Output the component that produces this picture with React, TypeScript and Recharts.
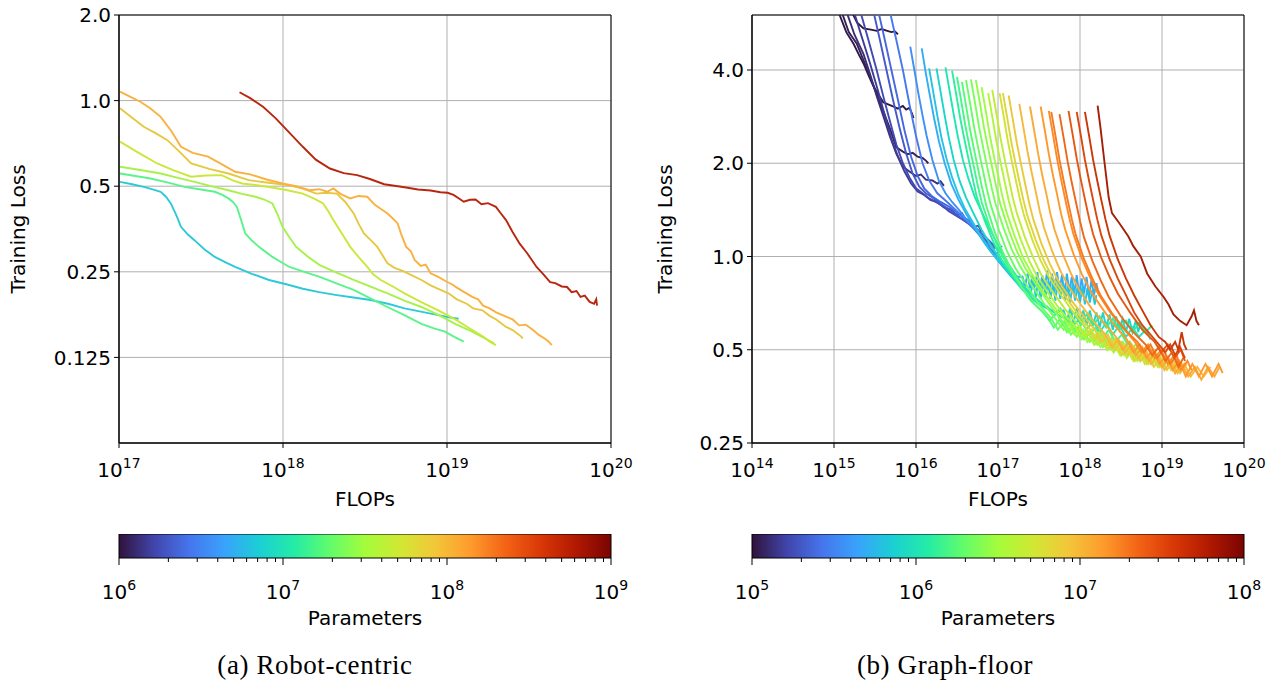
import React from 'react';
import { LineChart, Line, XAxis, YAxis, CartesianGrid, ReferenceArea } from 'recharts';

const FONT = '"DejaVu Sans", sans-serif';

// (a) Robot-centric runs, each point is [log10 FLOPs, training loss]
const robotCyan = [[17.006, 0.518], [17.08, 0.508], [17.151, 0.497], [17.2, 0.488], [17.254, 0.478], [17.285, 0.46], [17.316, 0.435], [17.35, 0.395], [17.378, 0.36], [17.42, 0.338], [17.46, 0.323], [17.52, 0.3], [17.584, 0.282], [17.65, 0.27], [17.708, 0.26], [17.81, 0.246], [17.915, 0.234], [18.02, 0.226], [18.121, 0.218], [18.22, 0.212], [18.328, 0.207], [18.43, 0.203], [18.534, 0.199], [18.64, 0.193], [18.741, 0.186], [18.84, 0.181], [18.947, 0.176], [19.01, 0.173], [19.071, 0.171]];
const robotGreen = [[17.006, 0.554], [17.1, 0.543], [17.192, 0.532], [17.3, 0.515], [17.399, 0.497], [17.49, 0.488], [17.584, 0.478], [17.63, 0.466], [17.667, 0.453], [17.695, 0.44], [17.719, 0.423], [17.745, 0.38], [17.77, 0.341], [17.81, 0.322], [17.853, 0.306], [17.9, 0.292], [17.935, 0.282], [17.99, 0.27], [18.039, 0.26], [18.13, 0.25], [18.224, 0.24], [18.33, 0.227], [18.431, 0.216], [18.53, 0.202], [18.637, 0.188], [18.74, 0.176], [18.844, 0.164], [18.92, 0.158], [18.988, 0.154], [19.05, 0.147], [19.102, 0.142]];
const robotLime = [[17.006, 0.585], [17.13, 0.57], [17.254, 0.554], [17.36, 0.535], [17.46, 0.518], [17.56, 0.5], [17.667, 0.484], [17.75, 0.47], [17.832, 0.459], [17.89, 0.448], [17.935, 0.435], [17.965, 0.4], [17.997, 0.36], [18.04, 0.33], [18.08, 0.306], [18.15, 0.283], [18.224, 0.264], [18.33, 0.248], [18.431, 0.234], [18.53, 0.222], [18.637, 0.21], [18.74, 0.198], [18.844, 0.188], [18.95, 0.176], [19.05, 0.164], [19.154, 0.154], [19.22, 0.147], [19.288, 0.14]];
const robotYellowGreen = [[17.006, 0.717], [17.12, 0.655], [17.233, 0.601], [17.33, 0.57], [17.44, 0.54], [17.53, 0.545], [17.626, 0.547], [17.69, 0.525], [17.75, 0.511], [17.83, 0.505], [17.915, 0.497], [18.02, 0.485], [18.121, 0.471], [18.19, 0.452], [18.245, 0.435], [18.28, 0.405], [18.307, 0.38], [18.36, 0.34], [18.41, 0.306], [18.46, 0.282], [18.514, 0.26], [18.55, 0.245], [18.596, 0.234], [18.67, 0.222], [18.741, 0.21], [18.84, 0.196], [18.947, 0.183], [19.05, 0.17], [19.154, 0.156], [19.22, 0.148], [19.26, 0.142], [19.298, 0.138]];
const robotYellow = [[17.006, 0.939], [17.08, 0.87], [17.151, 0.809], [17.22, 0.77], [17.295, 0.726], [17.37, 0.66], [17.44, 0.601], [17.55, 0.575], [17.667, 0.554], [17.791, 0.525], [17.9, 0.515], [18.039, 0.504], [18.12, 0.49], [18.204, 0.471], [18.26, 0.474], [18.328, 0.471], [18.38, 0.44], [18.431, 0.401], [18.46, 0.37], [18.493, 0.341], [18.53, 0.325], [18.575, 0.306], [18.6, 0.29], [18.637, 0.268], [18.68, 0.258], [18.73, 0.252], [18.78, 0.244], [18.844, 0.234], [18.9, 0.224], [18.96, 0.216], [19.009, 0.21], [19.06, 0.2], [19.12, 0.193], [19.16, 0.186], [19.216, 0.183], [19.26, 0.175], [19.3, 0.17], [19.36, 0.16], [19.4, 0.156], [19.44, 0.15], [19.463, 0.146]];
const robotOrange = [[17.006, 1.075], [17.07, 1.03], [17.13, 0.991], [17.19, 0.94], [17.254, 0.877], [17.32, 0.78], [17.378, 0.688], [17.45, 0.655], [17.543, 0.635], [17.62, 0.6], [17.708, 0.562], [17.8, 0.55], [17.9, 0.528], [17.997, 0.511], [18.08, 0.5], [18.162, 0.484], [18.22, 0.488], [18.27, 0.478], [18.307, 0.491], [18.35, 0.47], [18.41, 0.453], [18.46, 0.462], [18.514, 0.459], [18.56, 0.43], [18.6, 0.415], [18.637, 0.401], [18.67, 0.385], [18.699, 0.37], [18.72, 0.34], [18.751, 0.306], [18.78, 0.295], [18.803, 0.275], [18.84, 0.262], [18.87, 0.265], [18.9, 0.247], [18.947, 0.24], [18.99, 0.232], [19.03, 0.226], [19.06, 0.22], [19.1, 0.213], [19.154, 0.204], [19.19, 0.2], [19.22, 0.19], [19.26, 0.186], [19.3, 0.18], [19.36, 0.174], [19.4, 0.17], [19.44, 0.162], [19.48, 0.163], [19.525, 0.156], [19.56, 0.15], [19.6, 0.145], [19.62, 0.142], [19.639, 0.138]];
const robotRed = [[17.735, 1.07], [17.8, 1.02], [17.88, 0.95], [17.956, 0.866], [18.04, 0.77], [18.121, 0.688], [18.2, 0.62], [18.286, 0.577], [18.37, 0.556], [18.452, 0.547], [18.53, 0.53], [18.617, 0.508], [18.7, 0.5], [18.76, 0.494], [18.823, 0.487], [18.9, 0.483], [18.96, 0.476], [19.003, 0.474], [19.04, 0.466], [19.08, 0.45], [19.102, 0.441], [19.14, 0.448], [19.174, 0.449], [19.21, 0.432], [19.25, 0.436], [19.298, 0.423], [19.33, 0.4], [19.36, 0.38], [19.4, 0.345], [19.443, 0.314], [19.49, 0.29], [19.546, 0.26], [19.58, 0.248], [19.629, 0.23], [19.66, 0.228], [19.7, 0.222], [19.732, 0.221], [19.76, 0.212], [19.79, 0.214], [19.814, 0.204], [19.84, 0.206], [19.87, 0.196], [19.897, 0.193], [19.91, 0.2], [19.915, 0.19]];

const robotRuns = [robotCyan, robotGreen, robotLime, robotYellowGreen, robotYellow, robotOrange, robotRed];
const robotColors = ['#2ccad8', '#5bf38c', '#a6f24a', '#c9e83a', '#e6c840', '#f9b13f', '#b8260f'];

// (b) Graph-floor runs, [log10 FLOPs, training loss]
const gD1 = [[15.2, 6.3], [15.28, 5.7], [15.36, 5.45], [15.45, 5.4], [15.52, 5.35], [15.58, 5.42], [15.64, 5.36], [15.7, 5.3], [15.74, 5.33], [15.78, 5.22]];
const gD2 = [[15.05, 6.2], [15.15, 5.3], [15.24, 4.85], [15.3, 4.5], [15.36, 4.2], [15.42, 3.85], [15.48, 3.55], [15.55, 3.3], [15.6, 3.15], [15.66, 3.1], [15.72, 3.05], [15.78, 3.0], [15.84, 3.06], [15.88, 2.98], [15.92, 3.02], [15.95, 2.9], [15.97, 2.8]];
const gD3 = [[15.09, 6.2], [15.18, 5.3], [15.28, 4.85], [15.36, 4.3], [15.44, 3.8], [15.52, 3.35], [15.6, 2.95], [15.68, 2.6], [15.76, 2.25], [15.84, 2.18], [15.9, 2.14], [15.96, 2.16], [16.02, 2.1], [16.08, 2.08], [16.12, 2.04], [16.15, 2.0]];
const gD4 = [[15.15, 6.2], [15.25, 5.2], [15.36, 4.5], [15.45, 3.8], [15.52, 3.3], [15.6, 2.85], [15.68, 2.45], [15.76, 2.15], [15.84, 1.95], [15.92, 1.88], [16.0, 1.82], [16.06, 1.84], [16.12, 1.77], [16.2, 1.76], [16.26, 1.72], [16.3, 1.75], [16.34, 1.69]];
const gN1 = [[15.24, 6.2], [15.34, 5.1], [15.44, 4.2], [15.54, 3.4], [15.62, 2.85], [15.7, 2.4], [15.78, 2.1], [15.86, 1.88], [15.94, 1.72], [16.02, 1.62], [16.1, 1.58], [16.18, 1.52], [16.26, 1.5], [16.34, 1.44], [16.42, 1.42], [16.5, 1.36], [16.56, 1.38], [16.62, 1.3]];
const gN2 = [[15.32, 6.2], [15.42, 5.0], [15.52, 4.0], [15.6, 3.3], [15.68, 2.75], [15.76, 2.3], [15.84, 2.0], [15.92, 1.8], [16.0, 1.66], [16.08, 1.6], [16.16, 1.54], [16.24, 1.5], [16.32, 1.46], [16.4, 1.4], [16.48, 1.36], [16.56, 1.32], [16.64, 1.28], [16.7, 1.24], [16.76, 1.26], [16.8, 1.2]];
const gN3 = [[15.48, 6.2], [15.56, 5.0], [15.64, 4.0], [15.72, 3.2], [15.8, 2.6], [15.88, 2.15], [15.96, 1.85], [16.04, 1.68], [16.12, 1.6], [16.2, 1.55], [16.3, 1.48], [16.4, 1.42], [16.5, 1.36], [16.6, 1.3], [16.7, 1.24], [16.8, 1.16], [16.9, 1.1], [16.96, 1.06]];
const gN4 = [[15.54, 6.2], [15.62, 5.0], [15.7, 4.0], [15.78, 3.2], [15.86, 2.55], [15.94, 2.1], [16.02, 1.82], [16.1, 1.66], [16.2, 1.56], [16.3, 1.5], [16.42, 1.44], [16.54, 1.36], [16.66, 1.3], [16.78, 1.2], [16.9, 1.12], [17.0, 1.05], [17.05, 1.08]];
const gB1 = [[15.68, 6.2], [15.76, 5.0], [15.84, 4.0], [15.92, 3.1], [16.0, 2.45], [16.08, 2.0], [16.16, 1.76], [16.26, 1.6], [16.38, 1.5], [16.5, 1.4], [16.62, 1.3], [16.74, 1.2], [16.86, 1.1], [16.96, 1.02], [17.04, 0.98]];
const gC1 = [[15.93, 4.76], [15.98, 4.0], [16.03, 3.35], [16.08, 2.85], [16.13, 2.45], [16.2, 2.05], [16.28, 1.75], [16.36, 1.6], [16.44, 1.5], [16.52, 1.42], [16.6, 1.33], [16.68, 1.26], [16.74, 1.2], [16.8, 1.16], [16.86, 1.1], [16.92, 1.08], [16.98, 1.02], [17.02, 1.04]];
const gC2 = [[16.07, 4.7], [16.12, 3.9], [16.17, 3.3], [16.22, 2.8], [16.28, 2.35], [16.35, 2.0], [16.43, 1.72], [16.52, 1.52], [16.62, 1.36], [16.72, 1.24], [16.82, 1.12], [16.92, 1.03], [17.02, 0.96], [17.12, 0.9], [17.22, 0.86], [17.3, 0.86], [17.33, 0.8], [17.36, 0.88], [17.39, 0.79], [17.42, 0.87], [17.45, 0.8], [17.48, 0.89], [17.51, 0.78], [17.54, 0.87], [17.57, 0.79], [17.6, 0.9], [17.63, 0.78], [17.66, 0.88], [17.69, 0.77], [17.72, 0.89], [17.75, 0.78], [17.78, 0.87], [17.81, 0.76], [17.84, 0.88], [17.87, 0.77], [17.9, 0.86], [17.93, 0.76], [17.96, 0.87], [17.99, 0.75], [18.02, 0.85], [18.05, 0.76], [18.08, 0.86], [18.11, 0.74], [18.14, 0.84], [18.17, 0.75], [18.2, 0.82], [18.22, 0.77]];
const gC3 = [[16.16, 4.05], [16.21, 3.4], [16.26, 2.85], [16.31, 2.42], [16.37, 2.08], [16.44, 1.8], [16.52, 1.58], [16.6, 1.42], [16.7, 1.28], [16.8, 1.15], [16.9, 1.05], [17.0, 0.97], [17.1, 0.9], [17.2, 0.84], [17.3, 0.8], [17.4, 0.76], [17.43, 0.84], [17.46, 0.74], [17.49, 0.83], [17.52, 0.73], [17.55, 0.84], [17.58, 0.74], [17.61, 0.83], [17.64, 0.73], [17.67, 0.82], [17.7, 0.72], [17.73, 0.83], [17.76, 0.73], [17.79, 0.82], [17.82, 0.72], [17.85, 0.81], [17.88, 0.71], [17.91, 0.82], [17.94, 0.72], [17.97, 0.8], [18.0, 0.71], [18.03, 0.8], [18.06, 0.7], [18.09, 0.79], [18.12, 0.71], [18.15, 0.78], [18.18, 0.7], [18.2, 0.75]];
const gC4 = [[16.25, 4.05], [16.3, 3.4], [16.35, 2.85], [16.4, 2.42], [16.46, 2.05], [16.53, 1.76], [16.61, 1.55], [16.7, 1.38], [16.8, 1.22], [16.9, 1.1], [17.0, 1.0], [17.1, 0.91], [17.2, 0.84], [17.3, 0.78], [17.4, 0.74], [17.5, 0.7], [17.6, 0.68], [17.7, 0.66], [17.8, 0.67], [17.84, 0.62], [17.88, 0.68], [17.92, 0.61], [17.96, 0.68], [18.0, 0.61], [18.04, 0.67], [18.08, 0.6], [18.12, 0.67], [18.16, 0.6], [18.2, 0.66], [18.24, 0.59], [18.28, 0.66], [18.32, 0.59], [18.36, 0.65], [18.4, 0.58], [18.44, 0.64], [18.48, 0.58], [18.52, 0.63], [18.56, 0.57], [18.6, 0.63], [18.64, 0.57], [18.68, 0.62], [18.71, 0.57], [18.74, 0.61]];
const gC5 = [[16.36, 4.08], [16.41, 3.42], [16.46, 2.87], [16.51, 2.44], [16.57, 2.06], [16.64, 1.78], [16.72, 1.55], [16.82, 1.36], [16.92, 1.2], [17.02, 1.06], [17.12, 0.95], [17.22, 0.87], [17.32, 0.8], [17.42, 0.75], [17.52, 0.71], [17.62, 0.68], [17.72, 0.65], [17.82, 0.63], [17.92, 0.6], [18.0, 0.63], [18.08, 0.58], [18.16, 0.62], [18.24, 0.57], [18.32, 0.61], [18.4, 0.56], [18.48, 0.6], [18.56, 0.55], [18.64, 0.59], [18.72, 0.55], [18.8, 0.58], [18.86, 0.54]];
const gC6 = [[16.44, 3.98], [16.49, 3.34], [16.54, 2.79], [16.59, 2.39], [16.64, 2.07], [16.69, 1.79], [16.74, 1.56], [16.84, 1.3], [16.94, 1.12], [17.04, 0.98], [17.19, 0.86], [17.34, 0.77], [17.5, 0.7], [17.6, 0.69], [17.68, 0.64], [17.76, 0.68], [17.84, 0.62], [17.92, 0.66], [18.0, 0.61], [18.08, 0.65], [18.16, 0.6], [18.24, 0.64], [18.32, 0.59], [18.4, 0.63], [18.48, 0.58], [18.56, 0.62], [18.64, 0.57], [18.72, 0.61], [18.8, 0.57], [18.88, 0.6]];
const gC7 = [[16.5, 3.8], [16.55, 3.19], [16.6, 2.66], [16.65, 2.28], [16.7, 1.98], [16.75, 1.71], [16.8, 1.5], [16.9, 1.25], [17.0, 1.07], [17.1, 0.95], [17.25, 0.82], [17.4, 0.72], [17.55, 0.66], [17.63, 0.62], [17.71, 0.66], [17.79, 0.6], [17.87, 0.63], [17.95, 0.57], [18.03, 0.61], [18.11, 0.56], [18.19, 0.59], [18.27, 0.54], [18.35, 0.58], [18.43, 0.53], [18.51, 0.56], [18.58, 0.52]];
const gC8 = [[16.56, 3.66], [16.61, 3.07], [16.66, 2.56], [16.71, 2.2], [16.76, 1.9], [16.81, 1.65], [16.86, 1.45], [16.96, 1.2], [17.06, 1.03], [17.16, 0.91], [17.3, 0.79], [17.45, 0.7], [17.6, 0.64], [17.68, 0.59], [17.76, 0.63], [17.84, 0.57], [17.92, 0.6], [18.0, 0.55], [18.08, 0.58], [18.16, 0.53], [18.24, 0.57], [18.32, 0.52], [18.4, 0.55], [18.48, 0.51]];
const gC9 = [[16.61, 3.71], [16.66, 3.12], [16.71, 2.6], [16.76, 2.23], [16.81, 1.93], [16.86, 1.67], [16.91, 1.47], [17.01, 1.22], [17.11, 1.04], [17.21, 0.92], [17.36, 0.8], [17.5, 0.7], [17.65, 0.63], [17.73, 0.58], [17.81, 0.62], [17.89, 0.56], [17.97, 0.59], [18.05, 0.54], [18.13, 0.57], [18.21, 0.52], [18.29, 0.56], [18.37, 0.51], [18.45, 0.54], [18.53, 0.5], [18.61, 0.53], [18.69, 0.49]];
const gC10 = [[16.67, 3.73], [16.72, 3.13], [16.77, 2.61], [16.82, 2.24], [16.87, 1.94], [16.92, 1.68], [16.97, 1.48], [17.07, 1.23], [17.17, 1.05], [17.27, 0.93], [17.42, 0.8], [17.57, 0.7], [17.72, 0.62], [17.8, 0.58], [17.88, 0.61], [17.96, 0.55], [18.04, 0.58], [18.12, 0.53], [18.2, 0.56], [18.28, 0.51], [18.36, 0.54], [18.44, 0.5], [18.52, 0.53], [18.6, 0.49], [18.68, 0.52], [18.76, 0.48], [18.8, 0.5]];
const gC11 = [[16.73, 3.71], [16.78, 3.12], [16.83, 2.6], [16.88, 2.23], [16.93, 1.93], [16.98, 1.67], [17.03, 1.47], [17.13, 1.22], [17.23, 1.04], [17.33, 0.92], [17.48, 0.8], [17.63, 0.7], [17.78, 0.62], [17.86, 0.57], [17.94, 0.6], [18.02, 0.54], [18.1, 0.57], [18.18, 0.52], [18.26, 0.55], [18.34, 0.5], [18.42, 0.53], [18.5, 0.48], [18.58, 0.51], [18.66, 0.47], [18.74, 0.5], [18.82, 0.46], [18.9, 0.49]];
const gC12 = [[16.8, 3.52], [16.85, 2.96], [16.9, 2.46], [16.95, 2.11], [17.0, 1.83], [17.05, 1.58], [17.1, 1.4], [17.2, 1.17], [17.3, 1.0], [17.4, 0.89], [17.55, 0.77], [17.7, 0.68], [17.85, 0.61], [17.93, 0.56], [18.01, 0.59], [18.09, 0.53], [18.17, 0.56], [18.25, 0.51], [18.33, 0.54], [18.41, 0.49], [18.49, 0.52], [18.57, 0.47], [18.65, 0.5], [18.73, 0.46], [18.81, 0.49], [18.89, 0.45], [18.97, 0.48], [19.02, 0.45]];
const gC13 = [[16.88, 3.37], [16.93, 2.83], [16.98, 2.36], [17.03, 2.02], [17.08, 1.75], [17.13, 1.52], [17.18, 1.35], [17.28, 1.13], [17.38, 0.97], [17.48, 0.86], [17.63, 0.75], [17.78, 0.66], [17.93, 0.6], [18.01, 0.55], [18.09, 0.58], [18.17, 0.52], [18.25, 0.55], [18.33, 0.5], [18.41, 0.53], [18.49, 0.48], [18.57, 0.51], [18.65, 0.46], [18.73, 0.49], [18.81, 0.45], [18.89, 0.48], [18.97, 0.44], [19.05, 0.47], [19.1, 0.44]];
const gC14 = [[16.93, 3.45], [16.98, 2.9], [17.03, 2.42], [17.08, 2.07], [17.13, 1.79], [17.18, 1.55], [17.23, 1.38], [17.33, 1.15], [17.43, 0.99], [17.53, 0.87], [17.68, 0.76], [17.83, 0.67], [17.98, 0.6], [18.06, 0.55], [18.14, 0.58], [18.22, 0.52], [18.3, 0.55], [18.38, 0.5], [18.46, 0.53], [18.54, 0.48], [18.62, 0.51], [18.7, 0.46], [18.78, 0.49], [18.86, 0.45], [18.94, 0.48], [19.02, 0.44], [19.06, 0.46]];
const gC15 = [[17.02, 3.37], [17.07, 2.83], [17.12, 2.36], [17.17, 2.02], [17.22, 1.75], [17.27, 1.52], [17.32, 1.35], [17.42, 1.13], [17.52, 0.97], [17.62, 0.86], [17.77, 0.75], [17.92, 0.66], [18.07, 0.59], [18.15, 0.54], [18.23, 0.57], [18.31, 0.51], [18.39, 0.54], [18.47, 0.49], [18.55, 0.52], [18.63, 0.47], [18.71, 0.5], [18.79, 0.45], [18.87, 0.48], [18.95, 0.44], [19.03, 0.47], [19.11, 0.43], [19.19, 0.46]];
const gC16 = [[17.06, 3.37], [17.11, 2.83], [17.16, 2.36], [17.21, 2.02], [17.26, 1.75], [17.31, 1.52], [17.36, 1.35], [17.46, 1.13], [17.56, 0.97], [17.66, 0.86], [17.81, 0.75], [17.96, 0.66], [18.11, 0.59], [18.19, 0.54], [18.27, 0.57], [18.35, 0.51], [18.43, 0.54], [18.51, 0.48], [18.59, 0.51], [18.67, 0.46], [18.75, 0.49], [18.83, 0.45], [18.91, 0.48], [18.99, 0.44], [19.07, 0.46], [19.12, 0.43]];
const gC17 = [[17.13, 3.31], [17.18, 2.78], [17.23, 2.32], [17.28, 1.99], [17.33, 1.72], [17.38, 1.49], [17.43, 1.32], [17.53, 1.1], [17.63, 0.95], [17.73, 0.84], [17.88, 0.73], [18.03, 0.65], [18.18, 0.58], [18.26, 0.53], [18.34, 0.56], [18.42, 0.5], [18.5, 0.53], [18.58, 0.48], [18.66, 0.51], [18.74, 0.46], [18.82, 0.49], [18.9, 0.44], [18.98, 0.47], [19.06, 0.43], [19.14, 0.46], [19.22, 0.42], [19.3, 0.45]];
const gC18 = [[17.26, 3.11], [17.31, 2.61], [17.36, 2.18], [17.41, 1.87], [17.46, 1.62], [17.51, 1.4], [17.56, 1.24], [17.66, 1.04], [17.76, 0.9], [17.86, 0.8], [18.01, 0.7], [18.16, 0.62], [18.31, 0.56], [18.39, 0.51], [18.47, 0.54], [18.55, 0.49], [18.63, 0.52], [18.71, 0.47], [18.79, 0.5], [18.87, 0.45], [18.95, 0.48], [19.03, 0.43], [19.11, 0.46], [19.19, 0.42], [19.27, 0.45], [19.35, 0.41], [19.43, 0.44], [19.51, 0.41], [19.59, 0.44]];
const gC19 = [[17.39, 3.05], [17.44, 2.56], [17.49, 2.14], [17.54, 1.83], [17.59, 1.59], [17.64, 1.37], [17.69, 1.22], [17.79, 1.02], [17.89, 0.88], [17.99, 0.78], [18.14, 0.68], [18.29, 0.61], [18.44, 0.55], [18.52, 0.5], [18.6, 0.53], [18.68, 0.48], [18.76, 0.51], [18.84, 0.46], [18.92, 0.49], [19.0, 0.44], [19.08, 0.47], [19.16, 0.42], [19.24, 0.45], [19.32, 0.41], [19.4, 0.44], [19.48, 0.4], [19.56, 0.44], [19.64, 0.41], [19.7, 0.44]];
const gC20 = [[17.52, 3.05], [17.57, 2.56], [17.62, 2.14], [17.67, 1.83], [17.72, 1.59], [17.77, 1.37], [17.82, 1.22], [17.92, 1.02], [18.02, 0.88], [18.12, 0.78], [18.27, 0.68], [18.42, 0.6], [18.57, 0.54], [18.65, 0.49], [18.73, 0.52], [18.81, 0.47], [18.89, 0.5], [18.97, 0.45], [19.05, 0.48], [19.13, 0.43], [19.21, 0.46], [19.29, 0.41], [19.37, 0.45], [19.45, 0.41], [19.53, 0.45], [19.61, 0.41], [19.69, 0.45], [19.74, 0.42]];
const gC21 = [[17.62, 2.95], [17.67, 2.48], [17.72, 2.07], [17.77, 1.77], [17.82, 1.53], [17.87, 1.33], [17.92, 1.18], [18.02, 0.99], [18.12, 0.86], [18.22, 0.76], [18.37, 0.66], [18.52, 0.59], [18.67, 0.53], [18.75, 0.49], [18.83, 0.52], [18.91, 0.47], [18.99, 0.5], [19.07, 0.45], [19.15, 0.48], [19.23, 0.43], [19.31, 0.46], [19.36, 0.43]];
const gC22 = [[17.65, 2.93], [17.7, 2.46], [17.75, 2.05], [17.8, 1.76], [17.85, 1.52], [17.9, 1.32], [17.95, 1.17], [18.05, 0.98], [18.15, 0.85], [18.25, 0.75], [18.4, 0.65], [18.55, 0.58], [18.7, 0.53], [18.78, 0.49], [18.86, 0.52], [18.94, 0.47], [19.02, 0.5], [19.1, 0.45], [19.18, 0.48], [19.22, 0.44]];
const gC23 = [[17.75, 2.88], [17.8, 2.42], [17.85, 2.02], [17.9, 1.73], [17.95, 1.5], [18.0, 1.3], [18.05, 1.15], [18.15, 0.97], [18.25, 0.84], [18.35, 0.74], [18.5, 0.64], [18.65, 0.57], [18.8, 0.52], [18.88, 0.48], [18.96, 0.51], [19.04, 0.46], [19.12, 0.49], [19.2, 0.44], [19.26, 0.47]];
const gC24 = [[17.86, 2.95], [17.91, 2.48], [17.96, 2.07], [18.01, 1.77], [18.06, 1.53], [18.11, 1.33], [18.16, 1.18], [18.26, 0.99], [18.36, 0.86], [18.46, 0.76], [18.61, 0.66], [18.76, 0.58], [18.91, 0.53], [18.99, 0.49], [19.07, 0.52], [19.15, 0.47], [19.23, 0.5], [19.28, 0.46]];
const gC25 = [[17.96, 2.93], [18.01, 2.46], [18.06, 2.05], [18.11, 1.76], [18.16, 1.52], [18.21, 1.32], [18.26, 1.17], [18.36, 0.98], [18.46, 0.85], [18.56, 0.75], [18.66, 0.66], [18.76, 0.6], [18.86, 0.56], [18.96, 0.52], [19.04, 0.49], [19.1, 0.52], [19.16, 0.48], [19.22, 0.51], [19.28, 0.47]];
const gC26 = [[18.06, 2.93], [18.11, 2.46], [18.16, 2.05], [18.21, 1.76], [18.26, 1.52], [18.31, 1.32], [18.36, 1.17], [18.46, 0.98], [18.56, 0.85], [18.66, 0.75], [18.76, 0.67], [18.86, 0.6], [18.96, 0.55], [19.04, 0.53], [19.1, 0.5], [19.16, 0.53], [19.2, 0.5], [19.24, 0.57], [19.27, 0.52], [19.3, 0.5]];
const gC27 = [[18.215, 3.07], [18.25, 2.6], [18.3, 2.0], [18.35, 1.55], [18.39, 1.38], [18.48, 1.28], [18.59, 1.16], [18.65, 1.08], [18.74, 1.0], [18.82, 0.88], [18.92, 0.8], [19.02, 0.74], [19.08, 0.7], [19.14, 0.65], [19.22, 0.62], [19.3, 0.6], [19.36, 0.64], [19.39, 0.67], [19.42, 0.62], [19.45, 0.6]];

const graphRuns = [gD1, gD2, gD3, gD4, gN1, gN2, gN3, gN4, gB1, gC1, gC2, gC3, gC4, gC5, gC6, gC7, gC8, gC9, gC10, gC11, gC12, gC13, gC14, gC15, gC16, gC17, gC18, gC19, gC20, gC21, gC22, gC23, gC24, gC25, gC26, gC27];
const graphColors = ['#30123b', '#32184a', '#362259', '#3a2e78', '#3d3c99', '#4249b5', '#4558cc', '#4667df', '#4778ef', '#3e8ff8', '#33acf5', '#22c4e2', '#1bd6c9', '#20e4b3', '#2bef9d', '#3ff78a', '#55fb76', '#68fd65', '#7afe58', '#8dfd4b', '#a1fb40', '#b2f43a', '#c2eb37', '#d1e135', '#ddd637', '#e9c93a', '#f4b93a', '#fba935', '#fe992c', '#fc8a25', '#f77a1e', '#ef6817', '#e55812', '#d9470b', '#cb3807', '#a41f05'];

// axes ticks
const robotFlopTicks = [1e17, 1e18, 1e19, 1e20];
const robotLossTicks = [0.125, 0.25, 0.5, 1, 2];
const graphFlopTicks = [1e14, 1e15, 1e16, 1e17, 1e18, 1e19, 1e20];
const graphLossTicks = [0.25, 0.5, 1, 2, 4];
const robotParamMajor = [1e6, 1e7, 1e8, 1e9];
const robotParamTicks = [1e6, 2e6, 3e6, 4e6, 5e6, 6e6, 7e6, 8e6, 9e6, 1e7, 2e7, 3e7, 4e7, 5e7, 6e7, 7e7, 8e7, 9e7, 1e8, 2e8, 3e8, 4e8, 5e8, 6e8, 7e8, 8e8, 9e8, 1e9];
const graphParamMajor = [1e5, 1e6, 1e7, 1e8];
const graphParamTicks = [1e5, 2e5, 3e5, 4e5, 5e5, 6e5, 7e5, 8e5, 9e5, 1e6, 2e6, 3e6, 4e6, 5e6, 6e6, 7e6, 8e6, 9e6, 1e7, 2e7, 3e7, 4e7, 5e7, 6e7, 7e7, 8e7, 9e7, 1e8];

// turbo colormap stops
const TURBO = ['#30123b', '#4145ab', '#4675ed', '#39a2fc', '#1bcfd4', '#24eca6', '#61fc6c', '#a4fc3b', '#d1e834', '#f3c63a', '#fe9b2d', '#f36315', '#d93806', '#b11901', '#7a0402'];

const toPoints = (run: number[][]) => run.map(([e, loss]) => ({ flops: 10 ** e, loss }));

const fmtLoss = (v: number) => (v < 0.3 ? String(v) : v.toFixed(1));

function PowTick(props: any) {
  const { x, y, payload } = props;
  const exp = Math.round(Math.log10(payload.value));
  return (
    <text x={x} y={y + 27} textAnchor="middle" fill="#000" fontFamily={FONT}>
      <tspan fontSize={20}>10</tspan>
      <tspan fontSize={14} dy={-9}>{exp}</tspan>
    </text>
  );
}

function BarTick(props: any) {
  const { x, y, payload, majors } = props;
  const major = majors.includes(payload.value);
  const exp = Math.round(Math.log10(payload.value));
  return (
    <g>
      <line x1={x} x2={x} y1={y} y2={y + (major ? 7 : 4)} stroke="#000" strokeWidth={1} />
      {major && (
        <text x={x} y={y + 41} textAnchor="middle" fill="#000" fontFamily={FONT}>
          <tspan fontSize={20}>10</tspan>
          <tspan fontSize={14} dy={-9}>{exp}</tspan>
        </text>
      )}
    </g>
  );
}

const xTitle = (text: string, dy: number) => (p: any) => {
  const vb = p.viewBox;
  return (
    <text x={vb.x + vb.width / 2} y={vb.y + dy} textAnchor="middle" fontSize={20} fontFamily={FONT} fill="#000">
      {text}
    </text>
  );
};

const yTitle = (text: string, cx: number) => (p: any) => {
  const vb = p.viewBox;
  const cy = vb.y + vb.height / 2;
  return (
    <text x={cx} y={cy} transform={`rotate(-90, ${cx}, ${cy})`} textAnchor="middle" fontSize={20} fontFamily={FONT} fill="#000">
      {text}
    </text>
  );
};

interface PanelProps {
  runs: number[][][];
  colors: string[];
  xDomain: [number, number];
  xTicks: number[];
  yDomain: [number, number];
  yTicks: number[];
  yWidth: number;
  rightMargin: number;
  titleX: number;
}

function LossPanel({ runs, colors, xDomain, xTicks, yDomain, yTicks, yWidth, rightMargin, titleX }: PanelProps) {
  return (
    <LineChart width={640} height={520} margin={{ top: 15, right: rightMargin, bottom: 0, left: 0 }}>
      <CartesianGrid stroke="#b0b0b0" strokeWidth={1} />
      <XAxis
        type="number"
        dataKey="flops"
        scale="log"
        domain={xDomain}
        ticks={xTicks}
        interval={0}
        allowDataOverflow
        height={77}
        stroke="#000"
        tickSize={5}
        tickMargin={2}
        tick={<PowTick />}
        label={xTitle('FLOPs', 63)}
      />
      <YAxis
        type="number"
        scale="log"
        domain={yDomain}
        ticks={yTicks}
        interval={0}
        allowDataOverflow
        width={yWidth}
        stroke="#000"
        tickSize={5}
        tickMargin={3}
        tickFormatter={fmtLoss}
        tick={{ fill: '#000', fontSize: 20, fontFamily: FONT }}
        label={yTitle('Training Loss', titleX)}
      />
      {runs.map((run, i) => (
        <Line
          key={`run-${i}`}
          name={`run-${i}`}
          data={toPoints(run)}
          dataKey="loss"
          type="linear"
          stroke={colors[i]}
          strokeWidth={1.9}
          dot={false}
          isAnimationActive={false}
        />
      ))}
      <ReferenceArea x1={xDomain[0]} x2={xDomain[1]} y1={yDomain[0]} y2={yDomain[1]} fill="none" fillOpacity={0} stroke="#000" strokeWidth={1} />
    </LineChart>
  );
}

function ColorBar({ domain, ticks, majors, left, right, gid }: any) {
  const ends = [{ p: domain[0], v: 0 }, { p: domain[1], v: 1 }];
  return (
    <LineChart width={640} height={100} data={ends} margin={{ top: 0, right, bottom: 0, left }}>
      <defs>
        <linearGradient id={gid} x1="0" y1="0" x2="1" y2="0">
          {TURBO.map((c, i) => (
            <stop key={c} offset={`${(i / (TURBO.length - 1)) * 100}%`} stopColor={c} />
          ))}
        </linearGradient>
      </defs>
      <XAxis
        type="number"
        dataKey="p"
        scale="log"
        domain={domain}
        ticks={ticks}
        interval={0}
        height={76}
        axisLine={false}
        tickLine={false}
        tickSize={0}
        tickMargin={0}
        tick={<BarTick majors={majors} />}
        label={xTitle('Parameters', 67)}
      />
      <YAxis type="number" hide domain={[0, 1]} />
      <Line dataKey="v" stroke="none" strokeWidth={0} dot={false} activeDot={false} isAnimationActive={false} />
      <ReferenceArea x1={domain[0]} x2={domain[1]} y1={0} y2={1} ifOverflow="visible" fill={`url(#${gid})`} fillOpacity={1} stroke="#000" strokeWidth={1} />
    </LineChart>
  );
}

const captionStyle: React.CSSProperties = {
  position: 'absolute',
  top: 650,
  textAlign: 'center',
  fontFamily: '"Liberation Serif", serif',
  fontSize: 27,
  letterSpacing: 0.6,
  color: '#000',
};

export default function App() {
  return (
    <div style={{ position: 'absolute', left: 0, top: 0, width: 1280, height: 686, background: '#fff', overflow: 'hidden' }}>
      <div style={{ position: 'absolute', left: 0, top: 0 }}>
        <LossPanel
          runs={robotRuns}
          colors={robotColors}
          xDomain={[1e17, 1e20]}
          xTicks={robotFlopTicks}
          yDomain={[0.0625, 2]}
          yTicks={robotLossTicks}
          yWidth={119}
          rightMargin={29}
          titleX={25}
        />
      </div>
      <div style={{ position: 'absolute', left: 640, top: 0 }}>
        <LossPanel
          runs={graphRuns}
          colors={graphColors}
          xDomain={[1e14, 1e20]}
          xTicks={graphFlopTicks}
          yDomain={[0.25, 6.02]}
          yTicks={graphLossTicks}
          yWidth={112}
          rightMargin={36}
          titleX={32}
        />
      </div>
      <div style={{ position: 'absolute', left: 0, top: 534 }}>
        <ColorBar domain={[1e6, 1e9]} ticks={robotParamTicks} majors={robotParamMajor} left={119} right={29} gid="turboA" />
      </div>
      <div style={{ position: 'absolute', left: 640, top: 534 }}>
        <ColorBar domain={[1e5, 1e8]} ticks={graphParamTicks} majors={graphParamMajor} left={112} right={36} gid="turboB" />
      </div>
      <div style={{ ...captionStyle, left: 0, width: 630 }}>(a) Robot-centric</div>
      <div style={{ ...captionStyle, left: 640, width: 610 }}>(b) Graph-floor</div>
    </div>
  );
}
